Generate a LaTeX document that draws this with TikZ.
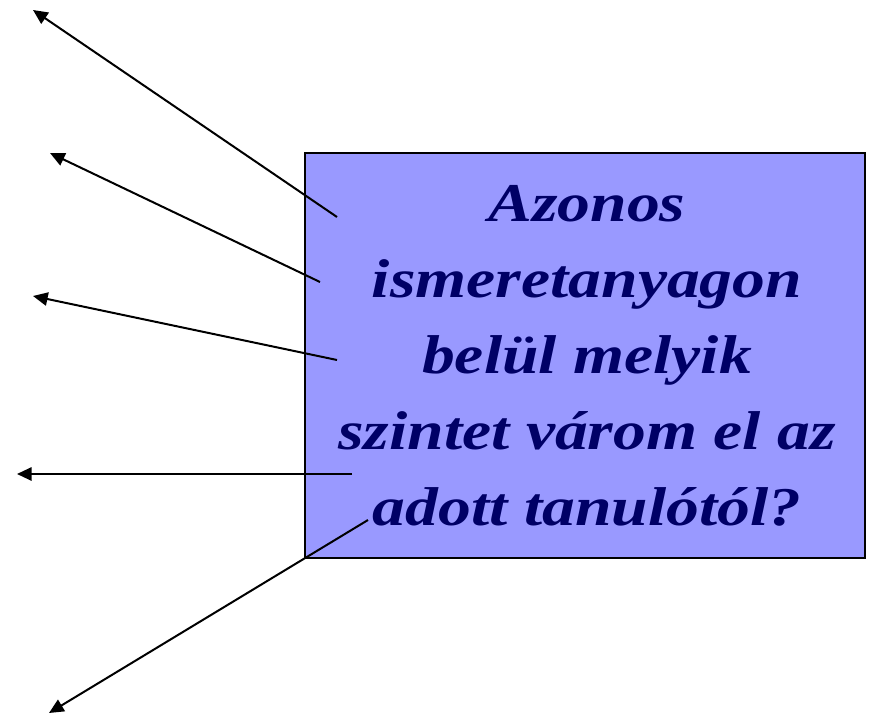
\documentclass[tikz,border=0pt]{standalone}
\usepackage{fontspec}
\setmainfont{Liberation Serif}
\newfontfamily\questionfont[FakeStretch=1.2]{Liberation Serif}
\usepackage{xcolor}
\usetikzlibrary{arrows.meta}
\definecolor{boxfill}{RGB}{153,153,255}
\definecolor{textnavy}{RGB}{0,0,102}

\begin{document}
\begin{tikzpicture}[x=0.75pt,y=0.75pt,yscale=-1,xscale=1]
\tikzset{pointer/.style={line width=1.5pt, -{Triangle[length=11pt,width=10pt]}}}
\useasboundingbox (0,0) rectangle (869,714);

% Text Node
\node [draw=black, line width=1.2pt, fill=boxfill, minimum width=420pt, minimum height=303.75pt, inner sep=0pt] (box) at (585,355.5) {};
\node [text=textnavy, align=center, font=\questionfont\fontsize{41}{57}\selectfont\bfseries\itshape] (question) at (587,356) {Azonos\\ismeretanyagon\\belül melyik\\szintet várom el az\\adott tanulótól?};

%Straight Lines
\coordinate (s1) at (337,217);
\coordinate (s2) at (320,282);
\coordinate (s3) at (337,360);
\coordinate (s4) at (352,474);
\coordinate (s5) at (368,520);
\coordinate (e1) at (33,10);
\coordinate (e2) at (50,153);
\coordinate (e3) at (33,296);
\coordinate (e4) at (17,474);
\coordinate (e5) at (49,713);

\draw [pointer] (s1) -- (e1);
\draw [pointer] (s2) -- (e2);
\draw [pointer] (s3) -- (e3);
\draw [pointer] (s4) -- (e4);
\draw [pointer] (s5) -- (e5);

\end{tikzpicture}
\end{document}
